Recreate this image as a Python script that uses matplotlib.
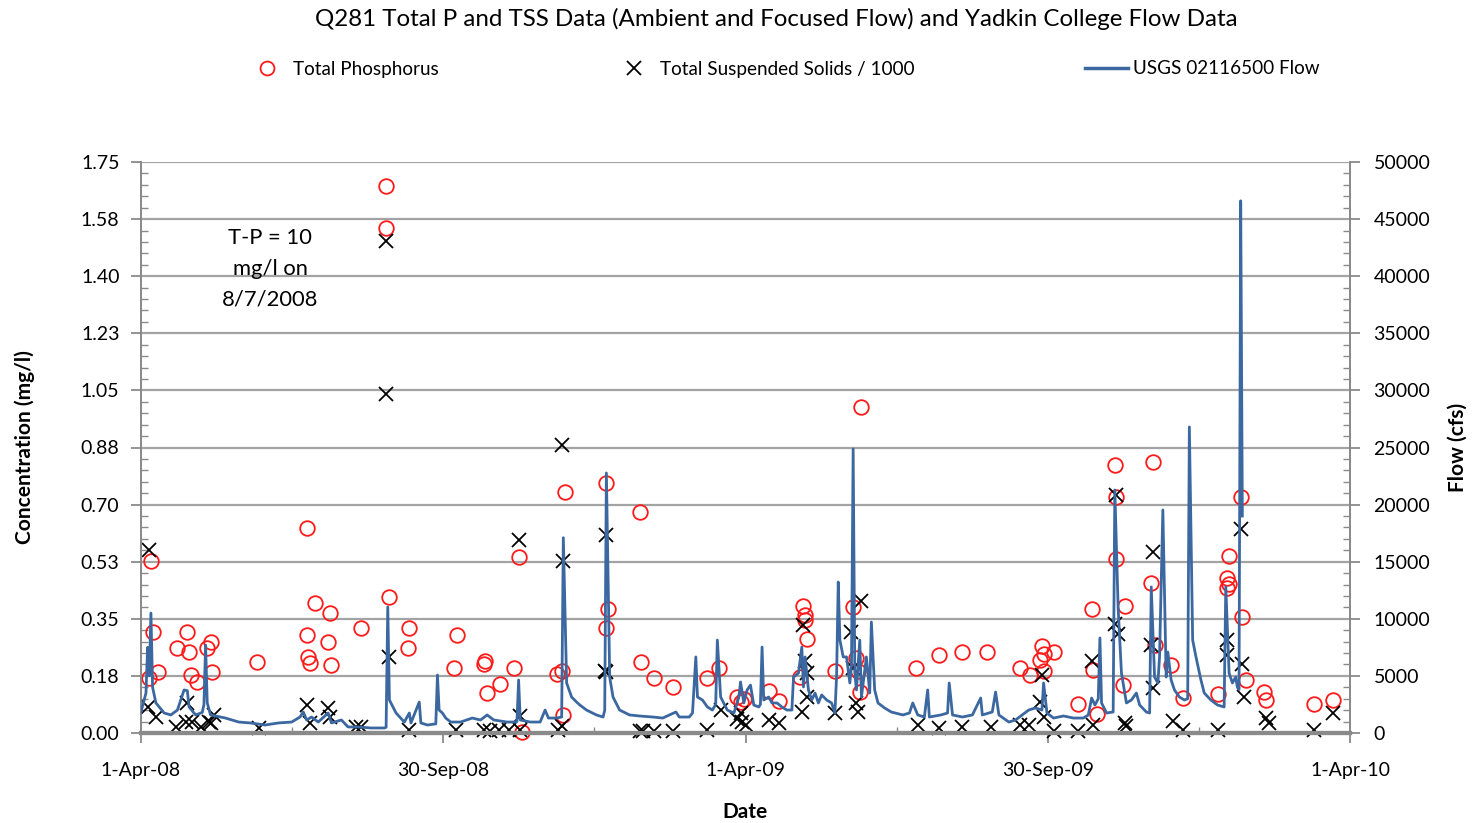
import numpy as np
import matplotlib
matplotlib.use("Agg")
import matplotlib.pyplot as plt
from matplotlib.lines import Line2D

plt.rcParams['font.family'] = ['Lato', 'DejaVu Sans']

START = np.datetime64('2008-04-01')

# Total phosphorus samples: days since 1-Apr-2008 and concentration (mg/l)
tp_day = [6, 7, 5, 10, 22, 28, 29, 30, 34, 42, 40, 43, 70, 100, 100, 101, 102, 105,
          114, 113, 115, 133, 148, 148, 150, 162, 161, 191, 189, 208, 207, 209, 217,
          225, 228, 230, 251, 254, 255, 256, 281, 282, 281, 301, 302, 310, 321, 342,
          349, 360, 362, 364, 379, 385, 400, 401, 401, 402, 398, 419, 430, 435, 432,
          433, 434, 468, 482, 496, 511, 531, 537, 543, 544, 545, 545, 551, 566, 574,
          575, 577, 588, 589, 589, 594, 593, 611, 610, 612, 622, 629, 650, 657, 656,
          657, 656, 664, 665, 667, 678, 679, 708, 720]
tp_mgl = [0.527, 0.310, 0.169, 0.187, 0.260, 0.310, 0.248, 0.178, 0.156, 0.279, 0.260,
          0.187, 0.218, 0.628, 0.300, 0.233, 0.215, 0.398, 0.368, 0.279, 0.208, 0.322,
          1.676, 1.548, 0.417, 0.322, 0.260, 0.300, 0.199, 0.221, 0.211, 0.123, 0.150,
          0.199, 0.539, 0.003, 0.181, 0.190, 0.055, 0.739, 0.766, 0.380, 0.322, 0.677,
          0.218, 0.169, 0.141, 0.169, 0.199, 0.110, 0.095, 0.104, 0.129, 0.098, 0.389,
          0.362, 0.346, 0.288, 0.172, 0.190, 0.386, 0.999, 0.230, 0.190, 0.126, 0.199,
          0.239, 0.248, 0.248, 0.199, 0.178, 0.224, 0.267, 0.242, 0.190, 0.248, 0.089,
          0.380, 0.193, 0.058, 0.821, 0.723, 0.533, 0.389, 0.147, 0.830, 0.460, 0.270,
          0.208, 0.107, 0.120, 0.542, 0.475, 0.457, 0.444, 0.723, 0.356, 0.162, 0.126,
          0.101, 0.089, 0.101]

# Total suspended solids samples (mg/l divided by 1000)
tss_day = [5, 4, 9, 21, 28, 27, 31, 36, 41, 44, 42, 71, 100, 102, 113, 114, 130, 133,
           148, 148, 150, 162, 190, 207, 211, 216, 222, 229, 229, 228, 252, 254, 254,
           255, 281, 281, 280, 301, 303, 310, 321, 342, 350, 360, 362, 363, 365, 379,
           385, 399, 400, 401, 402, 402, 419, 429, 430, 435, 432, 433, 469, 482, 496,
           513, 531, 536, 544, 543, 545, 551, 566, 575, 574, 589, 588, 590, 594, 595,
           611, 610, 611, 623, 629, 650, 656, 656, 664, 665, 666, 679, 681, 708, 720]
tss_k = [0.561, 0.080, 0.049, 0.018, 0.092, 0.034, 0.034, 0.018, 0.034, 0.055, 0.031,
         0.015, 0.086, 0.031, 0.077, 0.049, 0.018, 0.018, 1.508, 1.039, 0.233, 0.009,
         0.009, 0.009, 0.006, 0.009, 0.009, 0.052, 0.009, 0.591, 0.009, 0.021, 0.883,
         0.527, 0.607, 0.187, 0.190, 0.006, 0.006, 0.006, 0.006, 0.009, 0.070, 0.043,
         0.061, 0.034, 0.025, 0.040, 0.031, 0.064, 0.331, 0.221, 0.184, 0.110, 0.061,
         0.310, 0.199, 0.405, 0.092, 0.064, 0.025, 0.015, 0.018, 0.018, 0.025, 0.025,
         0.178, 0.095, 0.049, 0.006, 0.006, 0.025, 0.221, 0.729, 0.334, 0.303, 0.031,
         0.021, 0.555, 0.270, 0.138, 0.037, 0.009, 0.009, 0.285, 0.239, 0.625, 0.211,
         0.110, 0.046, 0.031, 0.009, 0.061]

# USGS 02116500 daily flow (cfs)
flow_day = [0, 3, 4, 5, 6, 7, 9, 14, 18, 22, 26, 28, 29, 33, 37, 38, 39, 40, 42, 51,
            59, 66, 75, 83, 91, 96, 98, 100, 103, 107, 113, 115, 121, 125, 131, 139,
            147, 148, 149, 150, 154, 159, 162, 163, 168, 169, 173, 178, 179, 180, 182,
            184, 187, 193, 200, 205, 209, 213, 221, 226, 227, 228, 229, 235, 241, 244,
            246, 251, 254, 255, 257, 260, 263, 265, 269, 275, 279, 280, 281, 283, 285,
            289, 295, 301, 309, 315, 323, 325, 331, 333, 335, 336, 339, 342, 345, 347,
            348, 350, 354, 358, 361, 362, 364, 366, 368, 370, 373, 374, 375, 376, 379,
            381, 384, 387, 390, 393, 394, 397, 399, 400, 401, 403, 405, 407, 409, 411,
            414, 417, 419, 420, 421, 422, 424, 426, 428, 429, 430, 431, 432, 434, 435,
            438, 440, 441, 443, 445, 449, 453, 460, 464, 466, 469, 473, 475, 476, 483,
            487, 488, 490, 496, 502, 507, 508, 514, 516, 518, 524, 528, 532, 536, 540,
            544, 545, 547, 551, 557, 563, 569, 572, 574, 576, 578, 579, 580, 583, 587,
            588, 590, 592, 595, 598, 601, 603, 607, 609, 610, 612, 614, 615, 617, 619,
            620, 622, 624, 627, 630, 632, 633, 635, 637, 640, 642, 646, 650, 654, 655,
            657, 659, 661, 662, 663, 664, 665]
flow_cfs = [1840, 3500, 7500, 5000, 10500, 4000, 2630, 1750, 1580, 2010, 3770, 3700,
            2280, 1580, 1800, 2500, 7700, 2630, 1580, 1310, 960, 880, 700, 880, 960,
            1400, 1840, 1140, 1400, 960, 1750, 880, 1140, 530, 530, 440, 440, 500,
            11030, 2890, 1750, 960, 1750, 880, 2710, 880, 700, 800, 5080, 2010, 1750,
            1310, 960, 960, 1310, 1140, 1580, 1140, 960, 960, 1000, 4640, 1140, 960,
            960, 2010, 1310, 1310, 1400, 17100, 4380, 3150, 2710, 2450, 2010, 1580,
            1400, 2000, 22770, 4900, 3150, 2010, 1580, 1490, 1400, 1310, 1840, 1400,
            1400, 1750, 6660, 3150, 2890, 2280, 2010, 2500, 8140, 3150, 2010, 1750,
            3150, 4470, 2630, 3770, 4200, 2450, 2280, 2500, 7530, 2890, 3150, 2630,
            2630, 2280, 2010, 2010, 4900, 5250, 7530, 4030, 6660, 3770, 2890, 3500,
            2630, 3330, 2890, 2630, 1750, 5000, 13220, 8140, 6660, 6660, 4380, 6000,
            24870, 5250, 3770, 8140, 3150, 6660, 3500, 9720, 3770, 2630, 2190, 1840,
            1580, 1750, 2630, 1580, 1400, 3770, 1400, 1580, 1750, 4380, 1580, 1400,
            1580, 3060, 1580, 1840, 3590, 1580, 960, 1140, 1580, 2010, 2190, 2010,
            4380, 1750, 1310, 1490, 1310, 1310, 1580, 3060, 2450, 3000, 8320, 2630,
            1750, 1840, 21280, 10950, 5250, 2630, 2890, 3500, 2450, 1840, 1750, 12790,
            4900, 4380, 6660, 19530, 4900, 7090, 4640, 3770, 3150, 2890, 3000, 26800,
            8140, 6660, 4640, 3500, 2890, 2450, 2280, 12800, 5250, 4380, 4900, 4000,
            3800, 46600, 19000]

conc_ticks = [0.0, 0.175, 0.35, 0.525, 0.70, 0.875, 1.05, 1.225, 1.40, 1.575, 1.75]
conc_labels = ['0.00', '0.18', '0.35', '0.53', '0.70', '0.88', '1.05', '1.23',
               '1.40', '1.58', '1.75']
flow_ticks = list(range(0, 50001, 5000))
date_tick_days = [0, 182.5, 365, 547.5, 730]
date_labels = ['1-Apr-08', '30-Sep-08', '1-Apr-09', '30-Sep-09', '1-Apr-10']


def to_dates(days):
    hours = np.round(np.asarray(days, dtype=float) * 24).astype('int64')
    return START + hours.astype('timedelta64[h]')


GRID = '#a3a3a3'
AXIS = '#8a8a8a'
RED = '#ff1a1a'
BLUE = '#3b68a0'

fig = plt.figure(figsize=(14.72, 8.23), dpi=100)
W, H = 1472, 823
ax = fig.add_axes([141 / W, 1 - 733 / H, (1350 - 141) / W, (733 - 162) / H])
ax2 = ax.twinx()

ax.plot(to_dates(tp_day), tp_mgl, linestyle='none', marker='o', ms=10.5,
        mfc='none', mec=RED, mew=1.3, clip_on=False, zorder=3)
ax.plot(to_dates(tss_day), tss_k, linestyle='none', marker='x', ms=10.5,
        color='black', mew=1.3, clip_on=False, zorder=3)
ax2.plot(to_dates(flow_day), flow_cfs, color=BLUE, lw=2.0, zorder=4)

ax.set_xlim(to_dates([0])[0], to_dates([730])[0])
ax.set_ylim(0, 1.75)
ax2.set_ylim(0, 50000)

ax.set_yticks(conc_ticks)
ax.set_yticklabels(conc_labels)
ax.set_yticks(np.arange(0, 1.7501, 0.035), minor=True)
ax2.set_yticks(flow_ticks)
ax2.set_yticks(np.arange(0, 50001, 1000), minor=True)
ax.set_xticks(to_dates(date_tick_days))
ax.set_xticklabels(date_labels)
ax.set_xticks(to_dates(np.arange(0, 731, 91.25)), minor=True)

ax.yaxis.grid(True, which='major', color=GRID, lw=1.6)
ax.set_axisbelow(True)

for a in (ax, ax2):
    for side in ('left', 'right', 'bottom'):
        a.spines[side].set_color(AXIS)
        a.spines[side].set_linewidth(1.3)
    a.spines['top'].set_visible(False)
ax.spines['bottom'].set_linewidth(3.0)
ax2.spines['bottom'].set_linewidth(3.0)

ax.tick_params(axis='y', which='major', direction='out', length=7, width=1.3,
               color=AXIS, labelsize=14, pad=8.5)
ax.tick_params(axis='y', which='minor', direction='in', length=5, width=1.0,
               color=AXIS)
ax2.tick_params(axis='y', which='major', direction='out', length=7, width=1.3,
                color=AXIS, labelsize=14, pad=10)
ax2.tick_params(axis='y', which='minor', direction='in', length=5, width=1.0,
                color=AXIS)
ax.tick_params(axis='x', which='major', direction='out', length=7, width=1.3,
               color=AXIS, labelsize=14, pad=14)
ax.tick_params(axis='x', which='minor', direction='in', length=4, width=1.0,
               color=AXIS)

ax.text(to_dates([78])[0], 1.422, 'T-P = 10\nmg/l on\n8/7/2008', ha='center',
        va='center', fontsize=15.8, linespacing=1.68, multialignment='center')

fig.text(776 / W, 1 - 19 / H,
         'Q281 Total P and TSS Data (Ambient and Focused Flow) and Yadkin College Flow Data',
         ha='center', va='center', fontsize=17.4)
fig.text(25 / W, 1 - 447 / H, 'Concentration (mg/l)', rotation=90, ha='center',
         va='center', fontsize=15, fontweight='bold')
fig.text(1458 / W, 1 - 447 / H, 'Flow (cfs)', rotation=90, ha='center',
         va='center', fontsize=15, fontweight='bold')
fig.text(745 / W, 1 - 812 / H, 'Date', ha='center', va='center', fontsize=15,
         fontweight='bold')

legend_entries = [
    (Line2D([], [], linestyle='none', marker='o', ms=10, mfc='none', mec=RED, mew=1.3),
     'Total Phosphorus', 245),
    (Line2D([], [], linestyle='none', marker='x', ms=10, color='black', mew=1.3),
     'Total Suspended Solids / 1000', 612),
    (Line2D([], [], color=BLUE, lw=2.5), 'USGS 02116500 Flow', 1085),
]
for handle, label, x_px in legend_entries:
    fig.legend(handles=[handle], labels=[label], loc='center left',
               bbox_to_anchor=(x_px / W, 1 - 69 / H), frameon=False,
               fontsize=13.6, handlelength=2.3, handletextpad=0.25,
               borderpad=0, borderaxespad=0)

fig.savefig('out.png', dpi=100)
